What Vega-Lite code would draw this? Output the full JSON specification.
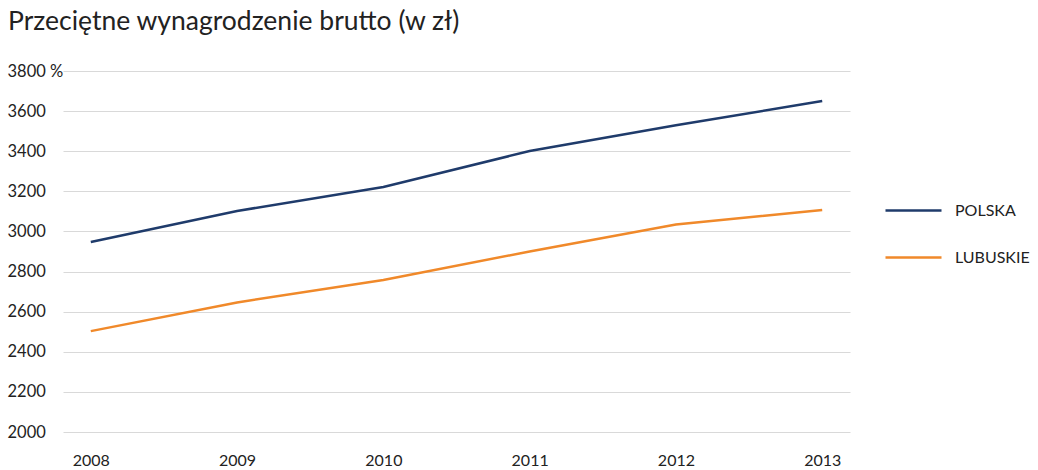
{
  "$schema": "https://vega.github.io/schema/vega-lite/v6.json",
  "width": 787,
  "height": 361,
  "autosize": "none",
  "padding": {"left": 63, "top": 71, "right": 188, "bottom": 38},
  "background": "white",
  "title": {
    "text": "Przeciętne wynagrodzenie brutto (w zł)",
    "anchor": "start",
    "frame": "group",
    "dx": -55,
    "offset": 28,
    "font": "Lato",
    "fontSize": 26.5,
    "fontWeight": "normal",
    "color": "#222222"
  },
  "data": {
    "values": [
      {"rok": "2008", "region": "POLSKA", "wartosc": 2947},
      {"rok": "2009", "region": "POLSKA", "wartosc": 3102},
      {"rok": "2010", "region": "POLSKA", "wartosc": 3222},
      {"rok": "2011", "region": "POLSKA", "wartosc": 3401},
      {"rok": "2012", "region": "POLSKA", "wartosc": 3530},
      {"rok": "2013", "region": "POLSKA", "wartosc": 3650},
      {"rok": "2008", "region": "LUBUSKIE", "wartosc": 2503},
      {"rok": "2009", "region": "LUBUSKIE", "wartosc": 2646},
      {"rok": "2010", "region": "LUBUSKIE", "wartosc": 2758},
      {"rok": "2011", "region": "LUBUSKIE", "wartosc": 2900},
      {"rok": "2012", "region": "LUBUSKIE", "wartosc": 3035},
      {"rok": "2013", "region": "LUBUSKIE", "wartosc": 3107}
    ]
  },
  "mark": {"type": "line", "strokeWidth": 2.5},
  "encoding": {
    "x": {
      "field": "rok",
      "type": "ordinal",
      "scale": {"type": "point", "padding": 0.19},
      "axis": {
        "title": null,
        "labelAngle": 0,
        "domain": false,
        "ticks": false,
        "grid": false,
        "labelFont": "Lato",
        "labelFontSize": 16,
        "labelColor": "#222222",
        "labelPadding": 20
      }
    },
    "y": {
      "field": "wartosc",
      "type": "quantitative",
      "scale": {"domain": [2000, 3800], "nice": false, "zero": false},
      "axis": {
        "title": null,
        "values": [2000, 2200, 2400, 2600, 2800, 3000, 3200, 3400, 3600, 3800],
        "labelExpr": "datum.value == 3800 ? '3800 %' : datum.label",
        "format": "d",
        "labelAlign": "left",
        "labelPadding": 56,
        "ticks": false,
        "domain": false,
        "grid": true,
        "gridColor": "#d9d9d9",
        "gridWidth": 1,
        "labelFont": "Lato",
        "labelFontSize": 16.5,
        "labelColor": "#222222"
      }
    },
    "color": {
      "field": "region",
      "type": "nominal",
      "sort": ["POLSKA", "LUBUSKIE"],
      "scale": {"domain": ["POLSKA", "LUBUSKIE"], "range": ["#1f3b6b", "#f0892a"]},
      "legend": {
        "title": null,
        "orient": "none",
        "legendX": 829,
        "legendY": 118,
        "symbolType": "M-1.4,0H1.4",
        "symbolSize": 1600,
        "symbolStrokeWidth": 2.5,
        "rowPadding": 17,
        "labelFont": "Lato",
        "labelFontSize": 16,
        "labelColor": "#222222",
        "labelOffset": 20
      }
    }
  },
  "config": {"view": {"stroke": null}}
}
